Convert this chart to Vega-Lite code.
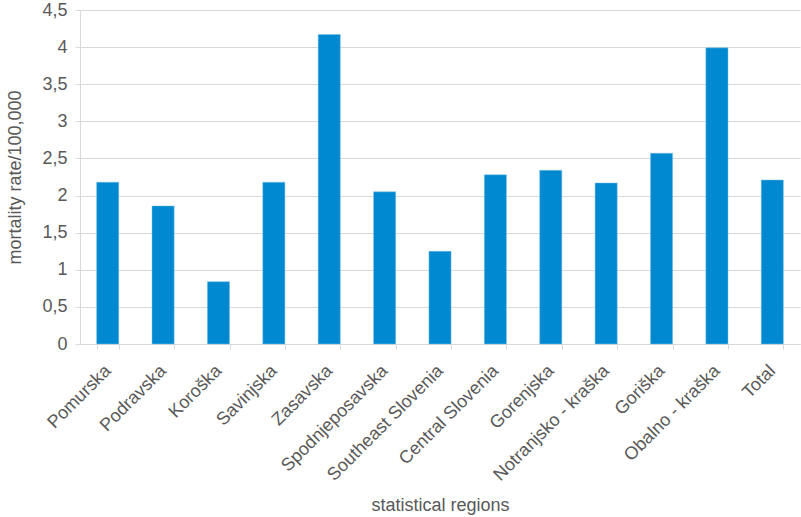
{
  "$schema": "https://vega.github.io/schema/vega-lite/v6.json",
  "width": 720,
  "height": 334,
  "autosize": "none",
  "padding": {"left": 80, "top": 10, "right": 1, "bottom": 173},
  "background": "white",
  "config": {
    "font": "Liberation Sans",
    "view": {"stroke": null}
  },
  "data": {
    "values": [
      {"region": "Pomurska", "rate": 2.18},
      {"region": "Podravska", "rate": 1.86},
      {"region": "Koroška", "rate": 0.84},
      {"region": "Savinjska", "rate": 2.18},
      {"region": "Zasavska", "rate": 4.17},
      {"region": "Spodnjeposavska", "rate": 2.05},
      {"region": "Southeast Slovenia", "rate": 1.25},
      {"region": "Central Slovenia", "rate": 2.28},
      {"region": "Gorenjska", "rate": 2.34},
      {"region": "Notranjsko - kraška", "rate": 2.17},
      {"region": "Goriška", "rate": 2.57},
      {"region": "Obalno - kraška", "rate": 3.99},
      {"region": "Total", "rate": 2.21}
    ]
  },
  "mark": {"type": "bar", "color": "#0089d0", "stroke": "#7fc3e8", "strokeWidth": 0.5},
  "encoding": {
    "x": {
      "field": "region",
      "type": "nominal",
      "sort": null,
      "scale": {"paddingInner": 0.6, "paddingOuter": 0.3},
      "axis": {
        "title": "statistical regions",
        "titleFontSize": 18,
        "titleFontWeight": "normal",
        "titleColor": "#595959",
        "titlePadding": 12,
        "labelAngle": -45,
        "labelAlign": "right",
        "labelBaseline": "middle",
        "labelFontSize": 18,
        "labelColor": "#595959",
        "labelPadding": 19,
        "domainColor": "#d9d9d9",
        "domainWidth": 1,
        "tickColor": "#d9d9d9",
        "tickSize": 5,
        "tickBand": "extent",
        "grid": false
      }
    },
    "y": {
      "field": "rate",
      "type": "quantitative",
      "scale": {"domain": [0, 4.5], "nice": false},
      "axis": {
        "title": "mortality rate/100,000",
        "titleFontSize": 18,
        "titleFontWeight": "normal",
        "titleColor": "#595959",
        "titlePadding": 17,
        "values": [0, 0.5, 1, 1.5, 2, 2.5, 3, 3.5, 4, 4.5],
        "labelExpr": "replace(format(datum.value, '~g'), '.', ',')",
        "labelFontSize": 18,
        "labelColor": "#595959",
        "labelPadding": 8,
        "domainColor": "#d9d9d9",
        "tickColor": "#d9d9d9",
        "tickSize": 5,
        "gridColor": "#d9d9d9",
        "gridWidth": 1
      }
    }
  }
}
